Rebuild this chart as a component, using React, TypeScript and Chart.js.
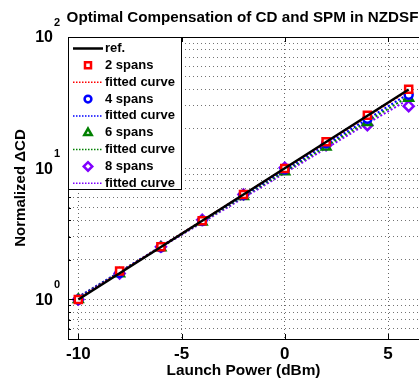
import React, { useEffect, useRef } from 'react';
import { Chart, registerables } from 'chart.js';
import { drawPoint } from 'chart.js/helpers';

Chart.register(...registerables);

const FONT = '"Liberation Sans", Arial, Helvetica, sans-serif';

const chartTitle = 'Optimal Compensation of CD and SPM in NZDSF';
const xAxisTitle = 'Launch Power (dBm)';
const yAxisTitle = 'Normalized \u0394CD';

const launchPower = [-10, -8, -6, -4, -2, 0, 2, 4, 6];
const refCurve = [1, 1.585, 2.512, 3.981, 6.31, 10, 15.85, 25.12, 39.81];
const spans2 = [1, 1.65, 2.52, 3.98, 6.3, 9.95, 15.9, 25.3, 40.0];
const fit2 = [1.01, 1.6, 2.53, 3.99, 6.3, 9.95, 15.7, 24.9, 39.3];
const spans4 = [1, 1.6, 2.5, 3.96, 6.25, 9.8, 15.5, 23.8, 36.3];
const fit4 = [1.03, 1.62, 2.54, 3.97, 6.2, 9.7, 15.2, 23.7, 37.0];
const spans6 = [1, 1.57, 2.48, 3.9, 6.1, 9.4, 14.5, 22.3, 34.2];
const fit6 = [1.04, 1.62, 2.52, 3.92, 6.1, 9.45, 14.7, 22.8, 35.3];
const spans8 = [1, 1.58, 2.52, 4.05, 6.32, 10.1, 15.0, 21.3, 29.7];
const fit8 = [1.05, 1.62, 2.5, 3.86, 5.95, 9.2, 14.2, 21.9, 33.5];

const xTickValues = [-10, -5, 0, 5];
const yTickValues = [0.5, 0.6, 0.7, 0.8, 0.9, 1, 2, 3, 4, 5, 6, 7, 8, 9, 10, 20, 30, 40, 50, 60, 70, 80, 90, 100];
const yMajorValues = [1, 10, 100];
const yMajorExponents = ['0', '1', '2'];

const RED = '#ff0000';
const BLUE = '#0000ff';
const GREEN = '#008000';
const PURPLE = '#8000ff';

const pts = (ys: number[]) => launchPower.map((x, i) => ({ x, y: ys[i] }));

const markerSet = (label: string, ys: number[], color: string, style: string, r: number) => ({
  label,
  data: pts(ys),
  showLine: false,
  borderColor: color,
  backgroundColor: '#ffffff',
  pointStyle: style,
  pointRadius: r,
  pointBorderWidth: 2.5,
  pointBackgroundColor: '#ffffff',
  pointBorderColor: color,
});

const fitSet = (label: string, ys: number[], color: string) => ({
  label,
  data: pts(ys),
  showLine: true,
  borderColor: color,
  borderWidth: 2,
  borderDash: [2, 2],
  pointRadius: 0,
  fill: false,
  tension: 0,
});

const decor = {
  id: 'decor',
  afterDraw(chart: any) {
    const { ctx, chartArea: a, scales } = chart;
    const xs = scales.x;
    const ys = scales.y;
    ctx.save();
    // top border
    ctx.strokeStyle = '#000';
    ctx.lineWidth = 1;
    ctx.setLineDash([]);
    ctx.beginPath();
    ctx.moveTo(a.left, a.top + 0.5);
    ctx.lineTo(a.right, a.top + 0.5);
    ctx.stroke();
    // inward tick marks
    ctx.beginPath();
    for (const v of yTickValues) {
      const py = Math.round(ys.getPixelForValue(v)) + 0.5;
      const len = yMajorValues.includes(v) ? 6 : 3;
      ctx.moveTo(a.left, py);
      ctx.lineTo(a.left + len, py);
    }
    for (const v of xTickValues) {
      const px = Math.round(xs.getPixelForValue(v)) + 0.5;
      ctx.moveTo(px, a.bottom);
      ctx.lineTo(px, a.bottom - 5);
      ctx.moveTo(px, a.top);
      ctx.lineTo(px, a.top + 5);
    }
    ctx.stroke();

    // title
    ctx.fillStyle = '#000';
    ctx.font = `bold 15.2px ${FONT}`;
    ctx.textAlign = 'center';
    ctx.textBaseline = 'middle';
    ctx.fillText(chartTitle, (a.left + a.right) / 2 - 1, 18);

    // y tick labels 10^n
    yMajorValues.forEach((v, i) => {
      const py = ys.getPixelForValue(v);
      ctx.font = `bold 16px ${FONT}`;
      ctx.textAlign = 'right';
      ctx.textBaseline = 'middle';
      ctx.fillText('10', 53, py + 1);
      ctx.font = `bold 11px ${FONT}`;
      ctx.textAlign = 'left';
      ctx.textBaseline = 'alphabetic';
      ctx.fillText(yMajorExponents[i], 54, py - 11);
    });

    // legend
    const lx = a.left;
    const ly = a.top;
    const lw = 113;
    const lh = 152;
    ctx.fillStyle = '#fff';
    ctx.fillRect(lx, ly, lw, lh);
    ctx.strokeStyle = '#000';
    ctx.lineWidth = 1;
    ctx.strokeRect(lx + 0.5, ly + 0.5, lw, lh);
    chart.data.datasets.forEach((ds: any, i: number) => {
      const ry = ly + 11.5 + i * 16.85;
      ctx.save();
      if (ds.showLine) {
        ctx.strokeStyle = ds.borderColor;
        ctx.lineWidth = ds.borderDash ? 1.5 : 2.5;
        ctx.setLineDash(ds.borderDash ? [1.5, 1.5] : []);
        ctx.beginPath();
        ctx.moveTo(lx + 5, ry);
        ctx.lineTo(lx + 35, ry);
        ctx.stroke();
      } else {
        ctx.fillStyle = '#fff';
        ctx.strokeStyle = ds.pointBorderColor;
        ctx.lineWidth = 2.5;
        drawPoint(ctx, { pointStyle: ds.pointStyle, radius: ds.pointRadius * 0.85, rotation: 0, borderWidth: 2.5 }, lx + 20, ry);
      }
      ctx.restore();
      ctx.fillStyle = '#000';
      ctx.font = `bold 13px ${FONT}`;
      ctx.textAlign = 'left';
      ctx.textBaseline = 'middle';
      ctx.fillText(ds.label, lx + 37, ry);
    });
    ctx.restore();
  },
};

export default function App() {
  const ref = useRef<HTMLCanvasElement | null>(null);
  useEffect(() => {
    document.body.style.margin = '0';
    document.body.style.overflow = 'hidden';
    const canvas = ref.current;
    if (!canvas) return;
    const chart = new Chart(canvas, {
      type: 'scatter',
      data: {
        datasets: [
          {
            label: 'ref.',
            data: pts(refCurve),
            showLine: true,
            borderColor: '#000000',
            borderWidth: 2.5,
            pointRadius: 0,
            fill: false,
          } as any,
          markerSet('2 spans', spans2, RED, 'rect', 5),
          fitSet('fitted curve', fit2, RED),
          markerSet('4 spans', spans4, BLUE, 'circle', 4),
          fitSet('fitted curve', fit4, BLUE),
          markerSet('6 spans', spans6, GREEN, 'triangle', 5),
          fitSet('fitted curve', fit6, GREEN),
          markerSet('8 spans', spans8, PURPLE, 'rectRot', 5),
          fitSet('fitted curve', fit8, PURPLE),
        ],
      },
      options: {
        responsive: false,
        animation: false,
        devicePixelRatio: 1,
        layout: { autoPadding: false, padding: { top: 37, left: 0, right: 0, bottom: 0 } },
        plugins: {
          legend: { display: false },
          title: { display: false },
          tooltip: { enabled: false },
        },
        scales: {
          x: {
            type: 'linear',
            min: -10.5,
            max: 6.5,
            afterBuildTicks: (s: any) => {
              s.ticks = xTickValues.map((v) => ({ value: v }));
            },
            afterFit: (s: any) => {
              s.height = 39;
              s.paddingLeft = 0;
              s.paddingRight = 0;
            },
            grid: { color: 'rgba(0,0,0,0.6)', lineWidth: 1, drawTicks: false },
            border: { display: true, color: '#000', width: 1, dash: [1, 3] },
            ticks: {
              color: '#000',
              font: { family: FONT, size: 17, weight: 'bold' },
              padding: 5,
              maxRotation: 0,
              callback: (v: any) => String(v),
            },
            title: {
              display: true,
              text: xAxisTitle,
              color: '#000',
              font: { family: FONT, size: 15.4, weight: 'bold', lineHeight: 1 },
              padding: { top: 0, bottom: 0 },
            },
          },
          y: {
            type: 'logarithmic',
            min: 0.5,
            max: 100,
            afterBuildTicks: (s: any) => {
              s.ticks = yTickValues.map((v) => ({ value: v, major: yMajorValues.includes(v) }));
            },
            afterFit: (s: any) => {
              s.width = 68;
              s.paddingTop = 0;
              s.paddingBottom = 0;
            },
            grid: { color: 'rgba(0,0,0,0.55)', lineWidth: 1, drawTicks: false },
            border: { display: true, color: '#000', width: 1, dash: [1, 3] },
            ticks: { display: false },
            title: {
              display: true,
              text: yAxisTitle,
              color: '#000',
              font: { family: FONT, size: 15, weight: 'bold' },
              padding: { top: 12, bottom: 0 },
            },
          },
        },
      } as any,
      plugins: [decor],
    });
    return () => chart.destroy();
  }, []);
  return (
    <div style={{ width: 419, height: 378, position: 'relative', background: '#fff' }}>
      <canvas ref={ref} width={419} height={378} style={{ display: 'block' }} />
    </div>
  );
}
